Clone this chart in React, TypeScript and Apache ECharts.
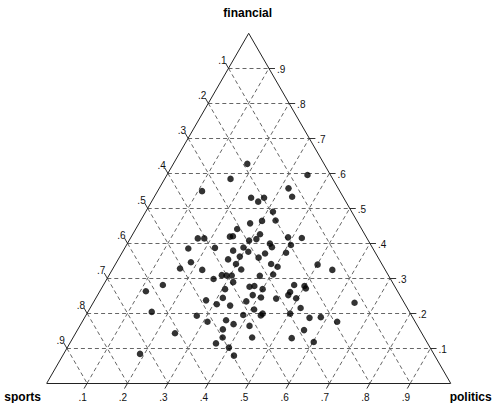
import React, { useEffect, useRef } from "react";
import * as echarts from "echarts";

const sports = [
  0.190, 0.057, 0.253, 0.341, 0.123, 0.126, 0.229, 0.217, 0.197, 0.195,
  0.201, 0.268, 0.235, 0.308, 0.337, 0.329, 0.419, 0.403, 0.295, 0.275,
  0.259, 0.194, 0.161, 0.248, 0.248, 0.198, 0.457, 0.390, 0.319, 0.349,
  0.313, 0.274, 0.296, 0.221, 0.374, 0.341, 0.506, 0.470, 0.453, 0.361,
  0.356, 0.274, 0.262, 0.160, 0.131, 0.319, 0.284, 0.438, 0.412, 0.401,
  0.388, 0.394, 0.360, 0.347, 0.331, 0.572, 0.623, 0.424, 0.487, 0.466,
  0.442, 0.435, 0.389, 0.364, 0.347, 0.311, 0.247, 0.223, 0.223, 0.267,
  0.276, 0.261, 0.264, 0.123, 0.638, 0.532, 0.416, 0.514, 0.466, 0.453,
  0.416, 0.381, 0.373, 0.366, 0.298, 0.256, 0.227, 0.193, 0.487, 0.611,
  0.499, 0.524, 0.498, 0.727, 0.497, 0.287, 0.426, 0.329, 0.280,
];
const politics = [
  0.183, 0.348, 0.163, 0.110, 0.320, 0.341, 0.241, 0.264, 0.273, 0.315,
  0.334, 0.275, 0.301, 0.251, 0.244, 0.251, 0.167, 0.183, 0.297, 0.313,
  0.315, 0.389, 0.424, 0.353, 0.363, 0.407, 0.158, 0.223, 0.293, 0.272,
  0.311, 0.355, 0.345, 0.406, 0.272, 0.297, 0.166, 0.184, 0.223, 0.298,
  0.319, 0.385, 0.405, 0.501, 0.545, 0.374, 0.405, 0.264, 0.279, 0.291,
  0.304, 0.317, 0.364, 0.375, 0.400, 0.147, 0.114, 0.307, 0.276, 0.308,
  0.314, 0.343, 0.377, 0.384, 0.408, 0.447, 0.472, 0.499, 0.506, 0.472,
  0.472, 0.496, 0.521, 0.647, 0.158, 0.275, 0.389, 0.310, 0.354, 0.378,
  0.420, 0.408, 0.433, 0.435, 0.503, 0.557, 0.584, 0.631, 0.359, 0.246,
  0.370, 0.362, 0.400, 0.189, 0.424, 0.561, 0.443, 0.542, 0.602,
];
const financial = [
  0.627, 0.595, 0.584, 0.549, 0.557, 0.533, 0.530, 0.519, 0.530, 0.490,
  0.465, 0.457, 0.464, 0.441, 0.419, 0.420, 0.414, 0.414, 0.408, 0.412,
  0.426, 0.417, 0.415, 0.399, 0.389, 0.395, 0.385, 0.387, 0.388, 0.379,
  0.376, 0.371, 0.359, 0.373, 0.354, 0.362, 0.328, 0.346, 0.324, 0.341,
  0.325, 0.341, 0.333, 0.339, 0.324, 0.307, 0.311, 0.298, 0.309, 0.308,
  0.308, 0.289, 0.276, 0.278, 0.269, 0.281, 0.263, 0.269, 0.237, 0.226,
  0.244, 0.222, 0.234, 0.252, 0.245, 0.242, 0.281, 0.278, 0.271, 0.261,
  0.252, 0.243, 0.215, 0.230, 0.204, 0.193, 0.195, 0.176, 0.180, 0.169,
  0.164, 0.211, 0.194, 0.199, 0.199, 0.187, 0.189, 0.176, 0.154, 0.143,
  0.131, 0.114, 0.102, 0.084, 0.079, 0.152, 0.131, 0.129, 0.118,
];

const tickValues = [0.1, 0.2, 0.3, 0.4, 0.5, 0.6, 0.7, 0.8, 0.9];
const tickLabels = [".1", ".2", ".3", ".4", ".5", ".6", ".7", ".8", ".9"];
const titleTop = "financial";
const titleLeft = "sports";
const titleRight = "politics";

const R3 = Math.sqrt(3) / 2;
function toXY(s: number, p: number, f: number): number[] {
  const t = s + p + f;
  return [(p + f / 2) / t, (f / t) * R3];
}

const FONT = "'Liberation Sans', Arial, sans-serif";

export default function App() {
  const ref = useRef<HTMLDivElement>(null);
  useEffect(() => {
    const chart = echarts.init(ref.current!, null, { renderer: "svg" });
    const gridSegs: number[][][] = [];
    const tickSegs: number[][][] = [];
    const len = 0.015;
    tickValues.forEach((k) => {
      gridSegs.push([toXY(1 - k, 0, k), toXY(0, 1 - k, k)]);
      gridSegs.push([toXY(k, 0, 1 - k), toXY(k, 1 - k, 0)]);
      gridSegs.push([toXY(1 - k, k, 0), toXY(0, k, 1 - k)]);
      const r = toXY(0, 1 - k, k);
      const l = toXY(k, 0, 1 - k);
      const b = toXY(1 - k, k, 0);
      tickSegs.push([r, [r[0] + len, r[1]]]);
      tickSegs.push([l, [l[0] - len * 0.5, l[1] + len * R3]]);
      tickSegs.push([b, [b[0] - len * 0.5, b[1] - len * R3]]);
    });
    const vS = toXY(1, 0, 0);
    const vP = toXY(0, 1, 0);
    const vF = toXY(0, 0, 1);
    const border = [
      [vS, vP],
      [vP, vF],
      [vF, vS],
    ];
    const pts = sports.map((s, i) => toXY(s, politics[i], financial[i]));

    chart.setOption({
      animation: false,
      grid: { left: 46.7, top: 33.3, width: 404, height: 350 },
      xAxis: { type: "value", min: 0, max: 1, show: false },
      yAxis: { type: "value", min: 0, max: R3, show: false },
      series: [
        {
          type: "lines",
          coordinateSystem: "cartesian2d",
          clip: false,
          silent: true,
          data: gridSegs.map((c) => ({ coords: c })),
          lineStyle: { color: "#666", width: 1, type: [4, 3], opacity: 1 },
        },
        {
          type: "lines",
          coordinateSystem: "cartesian2d",
          clip: false,
          silent: true,
          data: tickSegs.map((c) => ({ coords: c })),
          lineStyle: { color: "#333", width: 1, type: "solid", opacity: 1 },
        },
        {
          type: "lines",
          coordinateSystem: "cartesian2d",
          clip: false,
          silent: true,
          data: border.map((c) => ({ coords: c })),
          lineStyle: { color: "#222", width: 1, type: "solid", opacity: 1 },
        },
        {
          type: "scatter",
          clip: false,
          silent: true,
          symbol: "circle",
          symbolSize: 6.5,
          itemStyle: { color: "#000" },
          data: pts,
        },
      ],
    });

    const px = (pt: number[]) =>
      chart.convertToPixel({ gridIndex: 0 }, pt) as number[];
    const graphics: any[] = [];
    const tickStyle = { fontSize: 10, fontFamily: FONT, fill: "#111" };
    tickValues.forEach((k, i) => {
      const r = px(toXY(0, 1 - k, k));
      const l = px(toXY(k, 0, 1 - k));
      const b = px(toXY(1 - k, k, 0));
      graphics.push({
        type: "text",
        x: r[0] + 8,
        y: r[1] + 1,
        style: { ...tickStyle, text: tickLabels[i], align: "left", verticalAlign: "middle" },
      });
      graphics.push({
        type: "text",
        x: l[0] - 2,
        y: l[1] - 3,
        style: { ...tickStyle, text: tickLabels[i], align: "right", verticalAlign: "bottom" },
      });
      graphics.push({
        type: "text",
        x: b[0] - 4.5,
        y: b[1] + 14,
        style: { ...tickStyle, text: tickLabels[i], align: "center", verticalAlign: "middle" },
      });
    });
    const tF = px(vF);
    const tS = px(vS);
    const tP = px(vP);
    const titleStyle = { fontSize: 12, fontWeight: "bold", fontFamily: FONT, fill: "#000" };
    graphics.push({
      type: "text",
      x: tF[0] - 1,
      y: 13,
      style: { ...titleStyle, text: titleTop, align: "center", verticalAlign: "middle" },
    });
    graphics.push({
      type: "text",
      x: tS[0] - 24,
      y: tS[1] + 14,
      style: { ...titleStyle, text: titleLeft, align: "center", verticalAlign: "middle" },
    });
    graphics.push({
      type: "text",
      x: tP[0] + 20,
      y: tP[1] + 14,
      style: { ...titleStyle, text: titleRight, align: "center", verticalAlign: "middle" },
    });
    chart.setOption({ graphic: graphics });

    return () => chart.dispose();
  }, []);
  return (
    <div
      ref={ref}
      style={{ position: "absolute", left: 0, top: 0, width: 493, height: 403 }}
    />
  );
}
